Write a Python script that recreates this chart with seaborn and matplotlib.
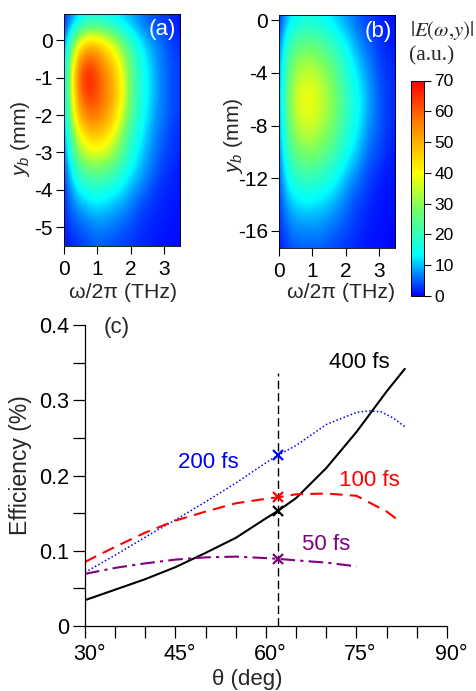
# Field maps (a), (b) and efficiency curves (c)

import numpy as np
import matplotlib
matplotlib.use('Agg')
import matplotlib.pyplot as plt
from matplotlib.colors import LinearSegmentedColormap
from matplotlib.transforms import ScaledTranslation
import seaborn as sns

freq = [0, .25, .5, .75, 1, 1.25, 1.5, 1.75, 2, 2.25, 2.5, 2.75, 3, 3.25, 3.5]

yb_a = [.5, 0, -.5, -1, -1.5, -2, -2.5, -3, -3.5, -4, -4.5, -5, -5.5]
field_a = [
    [2, 8, 13, 16, 16, 15, 13, 11, 9, 7, 5, 4, 3, 2, 1],
    [4, 24, 38, 44, 44, 39, 33, 25, 18, 13, 9, 7, 5, 3, 2],
    [6, 36, 55, 60, 57, 50, 45, 35, 24, 17, 12, 8, 6, 4, 3],
    [7, 42, 62, 68, 62, 55, 49, 39, 26, 18, 13, 9, 6, 4, 3],
    [7, 40, 58, 64, 61, 56, 50, 40, 26, 18, 13, 9, 6, 4, 3],
    [6, 36, 52, 57, 57, 53, 46, 36, 24, 17, 12, 8, 6, 4, 3],
    [5, 28, 41, 47, 48, 45, 39, 29, 20, 15, 10, 7, 5, 3, 2],
    [4, 21, 32, 37, 38, 36, 31, 24, 17, 12, 9, 6, 4, 3, 2],
    [3, 14, 22, 25, 26, 24, 22, 17, 13, 10, 7, 5, 3, 2, 1],
    [2, 9, 14, 16, 17, 16, 14, 12, 9, 7, 5, 3, 2, 2, 1],
    [2, 6, 8, 10, 11, 10, 9, 8, 6, 4, 3, 2, 2, 1, 1],
    [1, 4, 5, 6, 7, 7, 6, 5, 4, 3, 2, 2, 1, 1, 1],
    [1, 2, 3, 4, 5, 4, 4, 3, 3, 2, 2, 1, 1, 1, 0],
]

yb_b = [0, -2, -4, -6, -8, -10, -12, -14, -16, -18]
field_b = [
    [2, 10, 13, 15, 15, 14, 12, 10, 8, 6, 4, 3, 2, 1, 1],
    [5, 20, 25, 27, 27, 25, 22, 18, 14, 10, 7, 5, 3, 2, 1],
    [6, 25, 32, 35, 35, 32, 29, 24, 18, 14, 10, 7, 4, 3, 2],
    [6, 27, 36, 40, 39, 36, 32, 27, 21, 16, 12, 8, 5, 3, 2],
    [6, 25, 33, 36, 36, 33, 30, 25, 19, 15, 11, 7, 5, 3, 2],
    [5, 20, 26, 29, 29, 27, 24, 20, 15, 12, 8, 5, 4, 2, 1],
    [4, 14, 18, 20, 20, 18, 16, 13, 10, 7, 5, 3, 2, 1, 1],
    [3, 9, 11, 12, 12, 11, 10, 8, 6, 4, 3, 2, 1, 1, 1],
    [2, 5, 7, 7, 7, 7, 6, 5, 4, 3, 2, 1, 1, 1, 0],
    [1, 3, 4, 4, 4, 4, 3, 3, 2, 2, 1, 1, 1, 0, 0],
]

theta_400 = [30, 35, 40, 45, 50, 55, 60, 62, 65, 70, 75, 80, 83]
eff_400 = [.034, .048, .062, .078, .097, .117, .143, .153, .170, .21, .258, .312, .342]
theta_200 = [30, 35, 40, 45, 50, 55, 60, 62, 65, 70, 75, 77, 79, 81, 83]
eff_200 = [.071, .094, .118, .141, .165, .19, .217, .227, .24, .268, .284, .286, .285, .277, .265]
theta_100 = [30, 35, 40, 45, 50, 55, 60, 62, 65, 70, 75, 80, 82]
eff_100 = [.085, .105, .124, .14, .152, .163, .169, .171, .175, .176, .173, .152, .14]
theta_50 = [30, 35, 40, 45, 50, 55, 60, 62, 65, 70, 75]
eff_50 = [.069, .077, .083, .088, .091, .092, .09, .089, .087, .084, .079]

theta_mark = 62
mark_vals = [.153, .227, .171, .089]
mark_cols = ['black', 'blue', 'red', 'purple']

sns.set_style('ticks')
plt.rcParams['font.family'] = ['Liberation Sans', 'DejaVu Sans']
plt.rcParams['mathtext.fontset'] = 'custom'
plt.rcParams['mathtext.rm'] = 'Liberation Sans'
plt.rcParams['mathtext.it'] = 'Liberation Sans:italic'
plt.rcParams['axes.edgecolor'] = 'black'
plt.rcParams['xtick.color'] = 'black'
plt.rcParams['ytick.color'] = 'black'

W, H = 477, 691
fig = plt.figure(figsize=(W / 100, H / 100), dpi=100)


def px_axes(x0, y0, x1, y1):
    return fig.add_axes([x0 / W, 1 - y1 / H, (x1 - x0) / W, (y1 - y0) / H])


def px_text(x, y, s, **kw):
    fig.text(x / W, 1 - y / H, s, ha=kw.pop('ha', 'center'), va=kw.pop('va', 'center'), **kw)


cmap = LinearSegmentedColormap.from_list(
    'rainbow_field',
    [(0, (0, 0, 1)), (.19, (0, 1, 1)), (.4, (.45, 1, .4)), (.57, (1, 1, 0)), (.8, (1, .5, 0)), (1, (1, 0, 0))],
)


def field_map(ax, yb, field, ylim, yticks):
    hs = abs(yb[1] - yb[0]) / 2
    im = ax.imshow(np.array(field), cmap=cmap, vmin=0, vmax=70, aspect='auto', interpolation='bicubic',
                   extent=[freq[0] - .125, freq[-1] + .125, yb[-1] - hs, yb[0] + hs])
    ax.set_xlim(0, 3.5)
    ax.set_ylim(*ylim)
    ax.set_xticks([0, 1, 2, 3])
    ax.set_yticks(yticks)
    ax.set_yticklabels([str(t) for t in yticks])
    ax.tick_params(labelsize=15, length=6, width=.8, pad=2)
    ax.tick_params(axis='x', pad=4)
    for s in ax.spines.values():
        s.set_linewidth(.6)
    return im


ax_a = px_axes(64, 14, 180.5, 246)
im = field_map(ax_a, yb_a, field_a, (-5.5, .7), [0, -1, -2, -3, -4, -5])
ax_b = px_axes(279, 15, 395.5, 248)
field_map(ax_b, yb_b, field_b, (-17.3, .4), [0, -4, -8, -12, -16])

px_text(162, 29, '(a)', color='white', fontsize=16)
px_text(378, 31, '(b)', color='white', fontsize=16)
px_text(123, 293, 'ω/2π (THz)', fontsize=15.3)
px_text(341, 293, 'ω/2π (THz)', fontsize=15.3)
px_text(20, 139, r'$y_b$ (mm)', fontsize=15.2, rotation=90)
px_text(234, 136, r'$y_b$ (mm)', fontsize=15.2, rotation=90)

px_text(442, 30, r'$|E(\omega{,}y)|$', fontsize=15, math_fontfamily='stix')
px_text(432, 56, '(a.u.)', fontsize=15.5, family='Liberation Serif')

cax = px_axes(411, 80.5, 424.5, 296)
cb = fig.colorbar(im, cax=cax, ticks=range(0, 71, 10))
cb.outline.set_linewidth(.7)
cax.tick_params(labelsize=12.5, length=5, width=.8, pad=2)

ax = px_axes(85, 325.3, 447, 625.7)
sns.lineplot(x=theta_400, y=eff_400, color='black', linewidth=1.5, ax=ax)
sns.lineplot(x=theta_200, y=eff_200, color='blue', linewidth=1.1, linestyle=(0, (1, 1.5)), ax=ax)
sns.lineplot(x=theta_100, y=eff_100, color='red', linewidth=1.5, linestyle=(0, (6, 3.5)), ax=ax)
sns.lineplot(x=theta_50, y=eff_50, color='purple', linewidth=1.5, linestyle=(0, (7, 2.5, 1.5, 2.5)), ax=ax)
ax.plot([theta_mark, theta_mark], [0, .337], color='black', linewidth=1, linestyle=(0, (6, 3)))
for v, c in zip(mark_vals, mark_cols):
    ax.plot([theta_mark], [v], linestyle='none', marker='x', color=c, markersize=7, markeredgewidth=1.6, clip_on=False)

ax.set_xlim(30, 90)
ax.set_ylim(0, .4)
ax.set_xticks([30, 45, 60, 75, 90])
ax.set_xticklabels(['30°', '45°', '60°', '75°', '90°'])
ax.set_xticks(np.arange(30, 91, 5), minor=True)
ax.set_yticks([0, .1, .2, .3, .4])
ax.set_yticklabels(['0', '0.1', '0.2', '0.3', '0.4'])
ax.set_yticks([.05, .15, .25, .35], minor=True)
ax.tick_params(which='both', length=8.5, width=.9)
ax.tick_params(labelsize=15.5, pad=3)
ax.tick_params(axis='x', pad=5)
# degree sign hangs past the tick in the original, digits stay centred
shift = ScaledTranslation(4 / 100, 0, fig.dpi_scale_trans)
for lab in ax.get_xticklabels():
    lab.set_transform(lab.get_transform() + shift)
sns.despine(ax=ax)
for s in ['left', 'bottom']:
    ax.spines[s].set_linewidth(.9)

px_text(247, 679, 'θ (deg)', fontsize=16)
px_text(21, 465, 'Efficiency (%)', fontsize=16.5, rotation=90)
px_text(117, 328, '(c)', fontsize=16)
px_text(359, 363, '400 fs', fontsize=16, color='black')
px_text(208, 463, '200 fs', fontsize=16, color='blue')
px_text(369, 480, '100 fs', fontsize=16, color='red')
px_text(326, 544, '50 fs', fontsize=16, color='purple')

fig.savefig('out.png', dpi=100)
